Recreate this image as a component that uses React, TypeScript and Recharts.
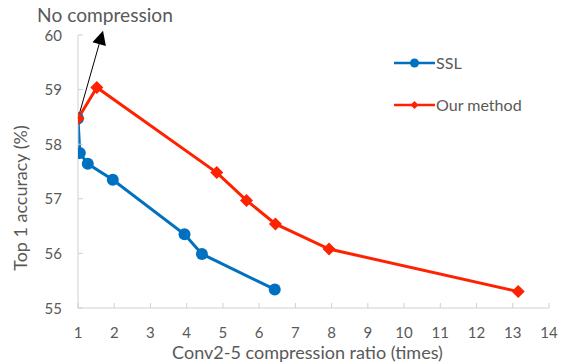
import React from 'react';
import { LineChart, Line, XAxis, YAxis, Legend, ReferenceLine } from 'recharts';

const SSL_X = [1, 1.05, 1.27, 1.96, 3.94, 4.42, 6.43];
const SSL_Y = [58.47, 57.84, 57.64, 57.35, 56.35, 55.99, 55.34];
const OUR_X = [1, 1.52, 4.83, 5.65, 6.45, 7.93, 13.15];
const OUR_Y = [58.47, 59.04, 57.48, 56.97, 56.54, 56.08, 55.3];
const X_TICKS = [1, 2, 3, 4, 5, 6, 7, 8, 9, 10, 11, 12, 13, 14];
const Y_TICKS = [55, 56, 57, 58, 59, 60];
const ARROW_FROM = { x: 1, y: 58.47 };
const ARROW_TO = { x: 1.69, y: 60.08 };
const ARROW_TEXT = 'No compression';
const SERIES_SSL = 'SSL';
const SERIES_OUR = 'Our method';
const SERIES_ORDER = [SERIES_SSL, SERIES_OUR];
const X_TITLE = 'Conv2-5 compression ratio (times)';
const Y_TITLE = 'Top 1 accuracy (%)';

const sslData = SSL_X.map((x, i) => ({ x, y: SSL_Y[i] }));
const ourData = OUR_X.map((x, i) => ({ x, y: OUR_Y[i] }));

const BLUE = '#0070C0';
const RED = '#FF2200';
const TEXT = '#595959';
const AXIS = '#D0D0D0';
const FONT = 'Lato, "Open Sans", sans-serif';

const fitFont = (text: string, target: number, fallback: number) => {
  try {
    const ctx = document.createElement('canvas').getContext('2d');
    if (!ctx) return fallback;
    ctx.font = '100px Lato';
    const w = ctx.measureText(text).width;
    if (w > 0) return (100 * target) / w;
  } catch (e) {
    /* ignore */
  }
  return fallback;
};

const X_TITLE_SIZE = fitFont(X_TITLE, 271, 17);
const Y_TITLE_SIZE = fitFont(Y_TITLE, 146, 17);
const ARROW_TEXT_SIZE = fitFont(ARROW_TEXT, 136, 17);
const LEGEND_SIZE = fitFont(SERIES_OUR, 86, 16);

const XTick = (props: any) => {
  const { x, y, payload } = props;
  return (
    <g>
      <line x1={x} x2={x} y1={y} y2={y - 5} stroke={AXIS} strokeWidth={1} />
      <text x={x} y={y + 30} textAnchor="middle" fill={TEXT} fontSize={15} fontFamily={FONT}>
        {payload.value}
      </text>
    </g>
  );
};

const YTick = (props: any) => {
  const { x, y, payload } = props;
  return (
    <g>
      <line x1={x} x2={x + 5} y1={y} y2={y} stroke={AXIS} strokeWidth={1} />
      <text x={x - 16} y={y + 5.5} textAnchor="end" fill={TEXT} fontSize={15} fontFamily={FONT}>
        {payload.value}
      </text>
    </g>
  );
};

const Diamond = ({ cx, cy, r, color }: any) => (
  <polygon points={`${cx},${cy - r} ${cx + r},${cy} ${cx},${cy + r} ${cx - r},${cy}`} fill={color} />
);

const ArrowShape = (props: any) => {
  const { x1, y1, x2, y2 } = props;
  const dx = x2 - x1;
  const dy = y2 - y1;
  const len = Math.sqrt(dx * dx + dy * dy) || 1;
  const ux = dx / len;
  const uy = dy / len;
  const hl = 14;
  const hw = 7;
  const bx = x2 - ux * hl;
  const by = y2 - uy * hl;
  const px = -uy;
  const py = ux;
  return (
    <g>
      <line x1={x1} y1={y1} x2={bx} y2={by} stroke="#000" strokeWidth={1} />
      <polygon
        points={`${x2},${y2} ${bx + px * hw},${by + py * hw} ${bx - px * hw},${by - py * hw}`}
        fill="#000"
      />
      <text x={x2 + 2} y={y2 - 9} textAnchor="middle" fill={TEXT} fontSize={ARROW_TEXT_SIZE} fontFamily={FONT}>
        {ARROW_TEXT}
      </text>
    </g>
  );
};

const renderLegend = (props: any) => {
  const payload = [...(props.payload || [])].sort(
    (a: any, b: any) => SERIES_ORDER.indexOf(a.value) - SERIES_ORDER.indexOf(b.value)
  );
  return (
    <div style={{ fontFamily: FONT, fontSize: LEGEND_SIZE, color: TEXT, lineHeight: '20px' }}>
      {payload.map((entry: any, i: number) => {
        const isSSL = entry.value === SERIES_SSL;
        const color = isSSL ? BLUE : RED;
        return (
          <div key={i} style={{ display: 'flex', alignItems: 'center', height: 20, marginBottom: i === 0 ? 22 : 0 }}>
            <svg width={41} height={14} style={{ display: 'block' }}>
              <line x1={0} x2={41} y1={7} y2={7} stroke={color} strokeWidth={2.5} />
              {isSSL ? (
                <circle cx={20.5} cy={7} r={4.5} fill={color} />
              ) : (
                <Diamond cx={20.5} cy={7} r={4} color={color} />
              )}
            </svg>
            <span style={{ marginLeft: 1 }}>{entry.value}</span>
          </div>
        );
      })}
    </div>
  );
};

export default function App() {
  return (
    <div style={{ position: 'absolute', left: 0, top: 0, width: 561, height: 364, background: '#fff' }}>
      <LineChart width={561} height={364} margin={{ top: 35, right: 12, bottom: 0, left: 0 }}>
        <XAxis
          type="number"
          dataKey="x"
          domain={[1, 14]}
          ticks={X_TICKS}
          allowDataOverflow
          height={56}
          tickSize={0}
          tickMargin={0}
          tickLine={false}
          axisLine={{ stroke: AXIS, strokeWidth: 1 }}
          tick={<XTick />}
          interval={0}
          label={{
            content: () => (
              <text x={307.5} y={359} textAnchor="middle" fill={TEXT} fontSize={X_TITLE_SIZE} fontFamily={FONT}>
                {X_TITLE}
              </text>
            ),
          }}
        />
        <YAxis
          type="number"
          dataKey="y"
          domain={[55, 60]}
          ticks={Y_TICKS}
          width={78}
          tickSize={0}
          tickMargin={0}
          tickLine={false}
          axisLine={{ stroke: AXIS, strokeWidth: 1 }}
          tick={<YTick />}
          interval={0}
          label={{
            content: () => (
              <text
                x={20}
                y={198}
                transform="rotate(-90 20 198)"
                textAnchor="middle"
                dominantBaseline="central"
                fill={TEXT}
                fontSize={Y_TITLE_SIZE}
                fontFamily={FONT}
              >
                {Y_TITLE}
              </text>
            ),
          }}
        />
        <Legend
          layout="vertical"
          verticalAlign="middle"
          align="center"
          content={renderLegend}
          wrapperStyle={{ position: 'absolute', left: 394, top: 53, width: 160, height: 80 }}
        />
        <ReferenceLine
          segment={[ARROW_FROM, ARROW_TO]}
          ifOverflow="visible"
          shape={(p: any) => <ArrowShape {...p} />}
        />
        <Line
          name={SERIES_SSL}
          data={sslData}
          dataKey="y"
          stroke={BLUE}
          strokeWidth={3}
          isAnimationActive={false}
          dot={{ r: 6, fill: BLUE, stroke: BLUE, strokeWidth: 0 }}
          activeDot={false}
        />
        <Line
          name={SERIES_OUR}
          data={ourData}
          dataKey="y"
          stroke={RED}
          strokeWidth={3}
          isAnimationActive={false}
          dot={(p: any) => <Diamond key={p.index} cx={p.cx} cy={p.cy} r={6.5} color={RED} />}
          activeDot={false}
        />
      </LineChart>
    </div>
  );
}
